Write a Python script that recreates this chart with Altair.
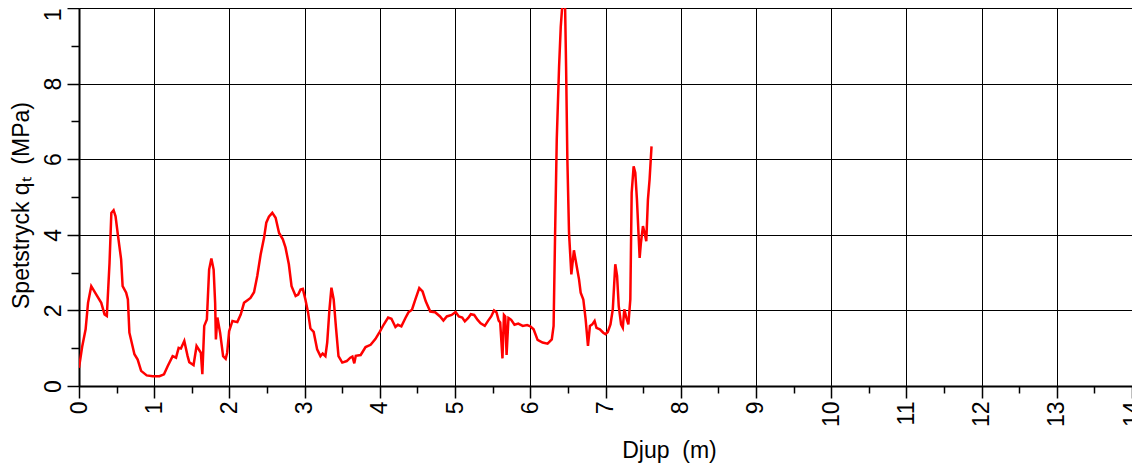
import altair as alt
import pandas as pd

depth = [0.0, 0.044, 0.088, 0.12, 0.163, 0.23, 0.296, 0.34, 0.37, 0.406, 0.43, 0.46, 0.486,
         0.517, 0.56, 0.58, 0.627, 0.65, 0.67, 0.737, 0.78, 0.826, 0.90, 0.98, 1.07, 1.13,
         1.18, 1.245, 1.29, 1.325, 1.355, 1.40, 1.444, 1.466, 1.523, 1.563, 1.62, 1.64,
         1.665, 1.70, 1.73, 1.76, 1.79, 1.81, 1.82, 1.84, 1.876, 1.916, 1.95, 1.97, 1.996,
         2.04, 2.105, 2.15, 2.194, 2.24, 2.28, 2.327, 2.37, 2.415, 2.46, 2.49, 2.525, 2.57,
         2.614, 2.66, 2.71, 2.746, 2.79, 2.826, 2.88, 2.914, 2.945, 2.976, 3.01, 3.046,
         3.077, 3.12, 3.166, 3.21, 3.24, 3.276, 3.30, 3.33, 3.356, 3.386, 3.417, 3.45, 3.50,
         3.56, 3.607, 3.635, 3.66, 3.68, 3.745, 3.81, 3.877, 3.94, 4.0, 4.05, 4.11, 4.154,
         4.207, 4.24, 4.286, 4.34, 4.38, 4.427, 4.47, 4.524, 4.568, 4.61, 4.67, 4.735, 4.8,
         4.845, 4.89, 4.955, 5.007, 5.05, 5.095, 5.13, 5.175, 5.21, 5.254, 5.3, 5.34, 5.395,
         5.44, 5.48, 5.518, 5.55, 5.58, 5.6, 5.63, 5.65, 5.667, 5.685, 5.71, 5.746, 5.79,
         5.84, 5.9, 5.958, 6.0, 6.044, 6.097, 6.163, 6.23, 6.286, 6.31, 6.33, 6.352, 6.383,
         6.405, 6.423, 6.443, 6.463, 6.476, 6.493, 6.515, 6.546, 6.58, 6.617, 6.648, 6.67,
         6.705, 6.736, 6.767, 6.793, 6.824, 6.855, 6.88, 6.925, 6.97, 7.0, 7.03, 7.066,
         7.097, 7.13, 7.154, 7.176, 7.207, 7.23, 7.25, 7.277, 7.304, 7.33, 7.348, 7.374,
         7.396, 7.418, 7.454, 7.471, 7.498, 7.52, 7.542, 7.564, 7.586, 7.612]
qt = [0.48, 1.06, 1.5, 2.2, 2.64, 2.42, 2.2, 1.89, 1.85, 3.26, 4.58, 4.65, 4.49,
      4.0, 3.35, 2.64, 2.47, 2.29, 1.41, 0.84, 0.70, 0.40, 0.28, 0.26, 0.26, 0.31,
      0.53, 0.79, 0.75, 1.01, 0.99, 1.19, 0.79, 0.63, 0.555, 1.06, 0.88, 0.31,
      1.59, 1.76, 3.08, 3.37, 3.08, 2.2, 1.23, 1.81, 1.41, 0.79, 0.72, 0.88, 1.45,
      1.72, 1.69, 1.89, 2.2, 2.27, 2.33, 2.48, 2.91, 3.48, 3.92, 4.32, 4.48, 4.58,
      4.45, 4.05, 3.88, 3.66, 3.22, 2.64, 2.38, 2.42, 2.55, 2.57, 2.29, 1.94,
      1.52, 1.43, 0.97, 0.79, 0.86, 0.79, 1.15, 2.03, 2.6, 2.29, 1.54, 0.79, 0.62,
      0.66, 0.75, 0.78, 0.60, 0.80, 0.82, 1.03, 1.09, 1.24, 1.44, 1.62, 1.81, 1.78,
      1.56, 1.62, 1.58, 1.80, 1.95, 2.02, 2.28, 2.59, 2.5, 2.24, 1.97, 1.95, 1.84,
      1.73, 1.84, 1.88, 1.96, 1.84, 1.81, 1.71, 1.80, 1.90, 1.88, 1.75, 1.66, 1.59,
      1.73, 1.84, 2.0, 1.95, 1.73, 1.68, 0.73, 1.88, 1.84, 0.82, 1.80, 1.75, 1.62,
      1.65, 1.59, 1.61, 1.58, 1.5, 1.22, 1.15, 1.12, 1.23, 1.59, 4.05, 6.52, 8.46,
      9.5, 10.0, 10.8, 10.0, 8.46, 5.99, 4.05, 2.95, 3.59, 3.17, 2.82, 2.47,
      2.29, 1.76, 1.06, 1.59, 1.63, 1.72, 1.54, 1.5, 1.41, 1.37, 1.43, 1.63,
      2.03, 3.22, 2.91, 2.11, 1.63, 1.54, 2.03, 1.81, 1.63, 2.29, 5.11, 5.81,
      5.64, 4.93, 3.39, 3.79, 4.23, 4.05, 3.83, 4.93, 5.46, 6.34]

x_major = list(range(0, 15))
x_minor = [i + 0.5 for i in range(0, 14)]
y_major = [0, 2, 4, 6, 8, 10]
y_minor = [1, 3, 5, 7, 9]

df = pd.DataFrame({"d": depth, "q": qt})

FONT = "Liberation Sans"
FS = 23
NB = "\u00a0"

xscale = alt.Scale(domain=[0, 14], nice=False, zero=False)
yscale = alt.Scale(domain=[0, 10], nice=False, zero=False)

x_axis = alt.Axis(
    values=x_major, orient="bottom", labelAngle=270, labelAlign="right", labelBaseline="middle",
    labelFont=FONT, labelFontSize=FS, labelColor="black", labelPadding=3,
    tickSize=12, tickColor="black", tickWidth=1.5,
    domainColor="black", domainWidth=2,
    grid=True, gridColor="black", gridWidth=1, gridOpacity=1,
    title="Djup " + NB + "(m)", titleFont=FONT, titleFontSize=FS, titleFontWeight="normal",
    titleColor="black", titleAngle=0, titleAlign="center", titleBaseline="alphabetic",
    titleX=590, titleY=71, labelFlush=False, labelOverlap=False,
)
y_axis = alt.Axis(
    values=y_major, orient="left", labelAngle=270, labelAlign="center", labelBaseline="alphabetic",
    labelFont=FONT, labelFontSize=FS, labelColor="black", labelPadding=7,
    tickSize=12, tickColor="black", tickWidth=1.5,
    domainColor="black", domainWidth=2,
    grid=True, gridColor="black", gridWidth=1, gridOpacity=1,
    title="Spetstryck q\u209c " + NB + "(MPa)", titleFont=FONT, titleFontSize=FS, titleFontWeight="normal",
    titleColor="black", titleAngle=270, titleAlign="center", titleBaseline="alphabetic",
    titleX=-51, titleY=197, labelFlush=False, labelOverlap=False,
)
x_minor_axis = alt.Axis(
    values=x_minor, orient="bottom", labels=False, domain=False, grid=False, title=None,
    tickSize=7, tickColor="black", tickWidth=1.5,
)
y_minor_axis = alt.Axis(
    values=y_minor, orient="left", labels=False, domain=False, grid=False, title=None,
    tickSize=8, tickColor="black", tickWidth=1.5,
)

line = alt.Chart(df).mark_line(color="#ff0000", strokeWidth=2.5, clip=True).encode(
    x=alt.X("d:Q", scale=xscale, axis=x_axis),
    y=alt.Y("q:Q", scale=yscale, axis=y_axis),
    order="d:Q",
)
minor = alt.Chart(df).mark_line(opacity=0, clip=True).encode(
    x=alt.X("d:Q", scale=xscale, axis=x_minor_axis),
    y=alt.Y("q:Q", scale=yscale, axis=y_minor_axis),
)

chart = alt.layer(minor, line).resolve_axis(x="independent", y="independent").properties(
    width=1053, height=378,
    padding={"left": 71, "top": 0, "right": 0, "bottom": 78},
    autosize=alt.AutoSizeParams(type="none"),
).configure_view(stroke="black", strokeWidth=2).configure(background="white")

chart.save("out.html", embed_options={"renderer": "svg", "actions": False})
